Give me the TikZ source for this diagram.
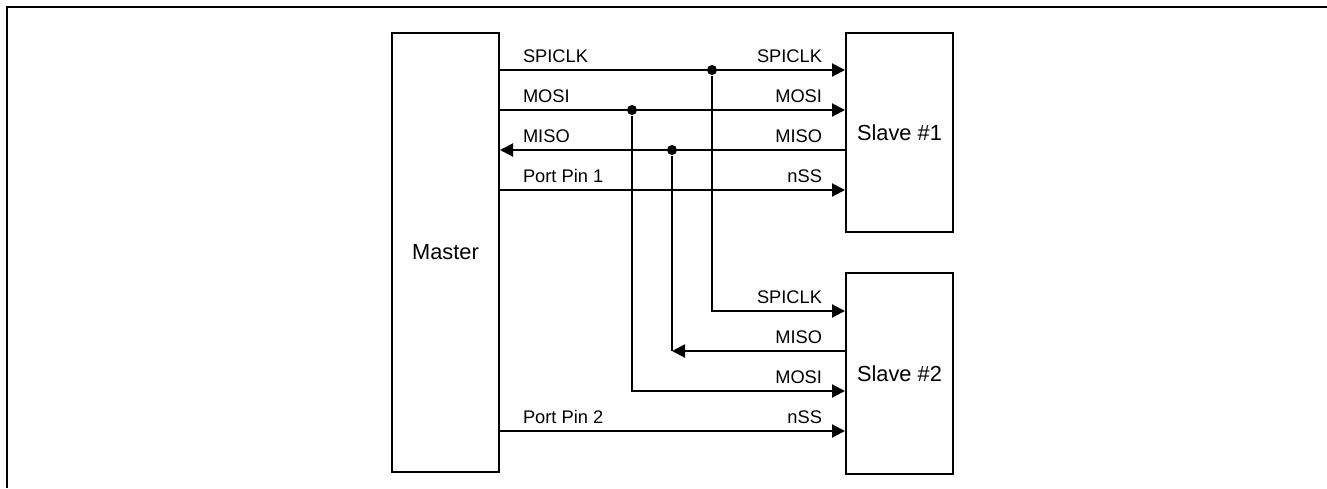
\documentclass[tikz,border=0pt]{standalone}
\usepackage{fontspec}
\setmainfont{Liberation Sans}
\usetikzlibrary{arrows.meta, positioning}

\begin{document}
\begin{tikzpicture}[
   x=0.02cm, y=-0.02cm, >={Triangle[length=2.6mm, width=2.6mm]},
   line width=1.15pt, font={\fontsize{10.4}{12}\selectfont},
   chip/.style = {rectangle, draw, line width=1.15pt, inner sep=0pt, minimum width=2.14cm,
                  anchor=north west, font={\fontsize{12.4}{14}\selectfont}},
   sig/.style  = {->},
   lft/.style  = {anchor=base west, xshift=4.4mm, yshift=1.5mm, inner sep=0pt},
   rgt/.style  = {anchor=base east, xshift=-4.4mm, yshift=1.5mm, inner sep=0pt},
   joint/.style = {circle, fill, inner sep=0pt, minimum size=2mm}]
  \useasboundingbox (0,0) rectangle (1327,488);
  \draw (1327,7) -| (7,488);

  % chips
  \node[chip, minimum height=8.78cm] (master) at (391,32) {Master};
  \node[chip, minimum height=3.98cm] (slaveA) at (845,32) {Slave \#1};
  \node[chip, minimum height=4.02cm, below=0.78cm of slaveA.south west, anchor=north west] (slaveB) {Slave \#2};

  % branch points and rows
  \node[joint] (clkdot)  at (712,70)  {};
  \node[joint] (mosidot) at (632,110) {};
  \node[joint] (misodot) at (672,150) {};
  \coordinate (csA)   at (0,190);
  \coordinate (clkB)  at (0,311);
  \coordinate (misoB) at (0,351);
  \coordinate (mosiB) at (0,391);
  \coordinate (csB)   at (0,431);

  % slave #1
  \draw[sig] (master.east |- clkdot) -- node[at start, lft]{SPICLK} node[at end, rgt]{SPICLK} (slaveA.west |- clkdot);
  \draw[sig] (master.east |- mosidot) -- node[at start, lft]{MOSI} node[at end, rgt]{MOSI} (slaveA.west |- mosidot);
  \draw[sig] (slaveA.west |- misodot) -- node[at start, rgt]{MISO} node[at end, lft]{MISO} (master.east |- misodot);
  \draw[sig] (master.east |- csA) -- node[at start, lft]{Port Pin 1} node[at end, rgt]{nSS} (slaveA.west |- csA);

  % slave #2
  \draw[sig] (clkdot) |- node[at end, rgt]{SPICLK} (slaveB.west |- clkB);
  \draw (misodot) -- (misodot |- misoB);
  \draw[sig] (slaveB.west |- misoB) -- node[at start, rgt]{MISO} (misodot |- misoB);
  \draw[sig] (mosidot) |- node[at end, rgt]{MOSI} (slaveB.west |- mosiB);
  \draw[sig] (master.east |- csB) -- node[at start, lft]{Port Pin 2} node[at end, rgt]{nSS} (slaveB.west |- csB);
\end{tikzpicture}
\end{document}
